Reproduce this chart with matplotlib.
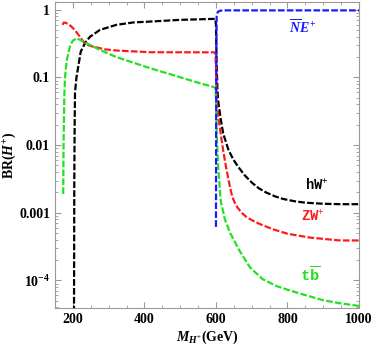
import matplotlib
matplotlib.use('Agg')
import matplotlib.pyplot as plt
from matplotlib.ticker import FixedLocator, FixedFormatter, LogLocator, NullFormatter, MultipleLocator

plt.rcParams['font.family'] = 'Liberation Serif'
plt.rcParams['font.weight'] = 'bold'
plt.rcParams['mathtext.fontset'] = 'custom'
plt.rcParams['mathtext.rm'] = 'Liberation Serif:bold'
plt.rcParams['mathtext.it'] = 'Liberation Serif:bold:italic'
plt.rcParams['mathtext.bf'] = 'Liberation Serif:bold'
plt.rcParams['mathtext.tt'] = 'Liberation Mono:bold'

# hW+ channel
m_hw = [203, 204, 205, 206, 210, 215, 222, 235, 248, 276, 322, 369, 416, 500, 598,
        600, 601, 602, 604, 606, 613, 620, 635, 648, 662, 680, 700, 720, 740, 765, 788,
        820, 850, 900, 950, 1000]
br_hw = [1e-5, 0.003, 0.02, 0.06, 0.1, 0.144, 0.24, 0.33, 0.40, 0.505, 0.60, 0.65, 0.67, 0.71, 0.735,
         0.6, 0.3, 0.15, 0.07, 0.046, 0.025, 0.015, 0.0085, 0.0062, 0.0048, 0.0036, 0.0028, 0.0023, 0.0020, 0.00175, 0.0016,
         0.00148, 0.00141, 0.00136, 0.00134, 0.00134]

# ZW+ channel
m_zw = [171, 175, 180, 187, 195, 206, 218, 229, 243, 257, 290, 322, 416, 598,
        600, 601, 602, 606, 613, 620, 628, 634, 640, 646, 653, 660, 672, 685, 700, 723, 760, 800,
        863, 947, 1000]
br_zw = [0.60, 0.65, 0.64, 0.62, 0.57, 0.50, 0.41, 0.34, 0.30, 0.285, 0.26, 0.25, 0.236, 0.235,
         0.15, 0.09, 0.046, 0.028, 0.015, 0.0085, 0.0048, 0.0033, 0.0023, 0.0017, 0.0014, 0.0012, 0.001, 0.00087, 0.00078, 0.00068, 0.00057, 0.00049,
         0.00043, 0.00039, 0.00039]

# t bbar channel
m_tb = [173, 174, 176, 178, 183, 192, 200, 211, 229, 276, 322, 416, 556, 598,
        600, 601, 602, 606, 613, 625, 640, 665, 695, 730, 771, 800, 835, 863, 900, 947, 1000]
br_tb = [0.0019, 0.01, 0.05, 0.1, 0.18, 0.29, 0.35, 0.38, 0.34, 0.255, 0.20, 0.137, 0.082, 0.071,
         0.05, 0.03, 0.015, 0.005, 0.00153, 0.0008, 0.0005, 0.00028, 0.000156, 0.000105, 0.000082, 0.000073, 0.000064, 0.000058, 0.000051, 0.000046, 0.000042]

# NE+ channel
m_ne = [600, 600.5, 601, 602, 605, 610, 620, 700, 800, 900, 1000]
br_ne = [0.00062, 0.01, 0.3, 0.8, 0.93, 0.965, 0.98, 0.98, 0.98, 0.98, 0.98]

fig = plt.figure(figsize=(3.74, 3.47), dpi=100)
ax = fig.add_axes([0.147, 0.112, 0.813, 0.882])

dash = (0, (3, 1))
ax.plot(m_hw, br_hw, color='black', lw=1.6, ls=dash)
ax.plot(m_zw, br_zw, color='#ff1a1a', lw=1.6, ls=dash)
ax.plot(m_tb, br_tb, color='#22e022', lw=1.6, ls=dash)
ax.plot(m_ne, br_ne, color='#1a1aff', lw=1.6, ls=dash)

ax.set_yscale('log')
ax.set_xlim(150, 1000)
ax.set_ylim(3.9e-5, 1.3)

ax.xaxis.set_major_locator(FixedLocator([200, 400, 600, 800, 1000]))
ax.xaxis.set_minor_locator(MultipleLocator(50))
ax.yaxis.set_major_locator(FixedLocator([1e-4, 1e-3, 1e-2, 1e-1, 1]))
ax.yaxis.set_major_formatter(FixedFormatter([r'$\mathbf{10^{-4}}$', '0.001', '0.01', '0.1', '1']))
ax.yaxis.set_minor_locator(LogLocator(base=10, subs=range(2, 10)))
ax.yaxis.set_minor_formatter(NullFormatter())

ax.tick_params(which='both', direction='in', top=True, right=True, color='#999999', labelsize=10)
ax.tick_params(which='major', length=4)
ax.tick_params(which='minor', length=2)
for s in ax.spines.values():
    s.set_color('#999999')

ax.text(841, 0.54, r'$\overline{N}E^{+}$', color='#1a1aff', fontsize=10, ha='center', va='center')
ax.text(883, 0.0026, r'$\mathtt{hW}^{+}$', color='black', fontsize=10, ha='center', va='center')
ax.text(872, 0.00085, r'$\mathtt{ZW}^{+}$', color='#ff1a1a', fontsize=10, ha='center', va='center')
ax.text(863, 0.00012, r'$\mathtt{t\overline{b}}$', color='#22e022', fontsize=11, ha='center', va='center')

ax.set_xlabel(r'$M_{H^{+}}\mathrm{(GeV)}$', fontsize=10, labelpad=2)
ax.set_ylabel(r'$\mathrm{BR(}H^{+}\mathrm{)}$', fontsize=10, labelpad=1)

fig.savefig('out.png', dpi=100)
